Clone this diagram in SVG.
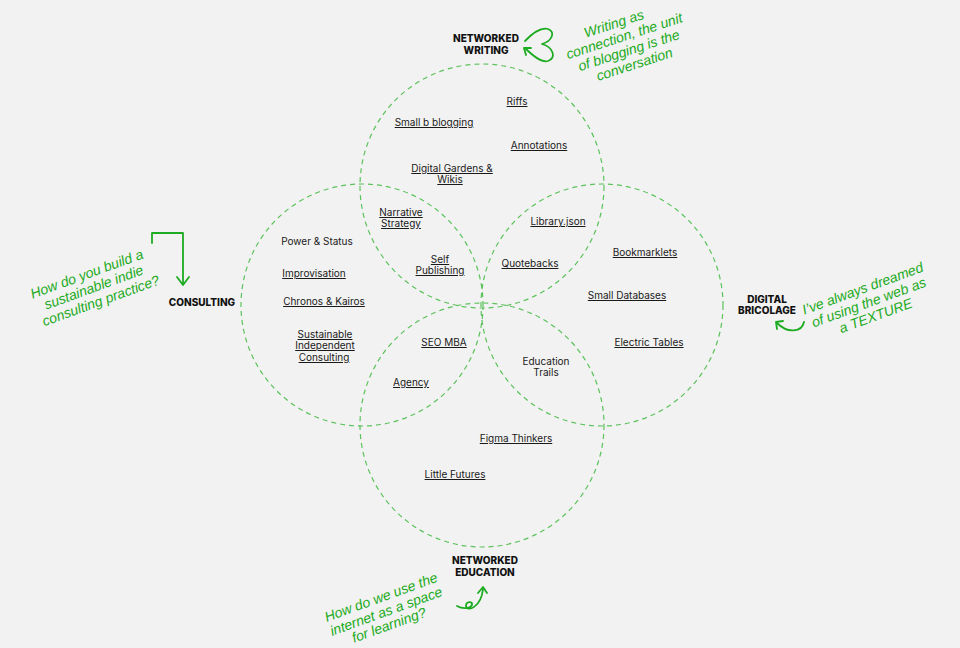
<svg xmlns="http://www.w3.org/2000/svg" width="960" height="648" viewBox="0 0 960 648">
<style>
.bg{fill:#f2f2f2}
.circ{fill:none;stroke:#5cc25c;stroke-width:1.2;stroke-dasharray:5 4}
.item{font-family:Inter,"Liberation Sans",sans-serif;font-size:10px;fill:#1a1a1a;text-anchor:middle}
.u{text-decoration:underline;text-decoration-color:#8a8a8a}
.cat{font-family:Inter,"Liberation Sans",sans-serif;font-size:10px;font-weight:800;fill:#111;text-anchor:middle}
.note{font-family:"Liberation Sans",sans-serif;font-style:italic;font-size:14px;fill:#1dab22;text-anchor:middle}
.arr{fill:none;stroke:#1dab22;stroke-width:1.8;stroke-linecap:round;stroke-linejoin:round}
</style>
<rect class="bg" x="0" y="0" width="960" height="648"/>
<g id="circles">
<circle id="circle-writing" class="circ" cx="482" cy="186" r="122"/>
<circle id="circle-consulting" class="circ" cx="362" cy="305" r="121"/>
<circle id="circle-bricolage" class="circ" cx="602" cy="305" r="121"/>
<circle id="circle-education" class="circ" cx="482" cy="425" r="122"/>
</g>
<g id="categories">
<g id="cat-writing"><text class="cat" x="486" y="42">NETWORKED</text><text class="cat" x="486" y="54">WRITING</text></g>
<g id="cat-consulting"><text class="cat" x="202" y="306">CONSULTING</text></g>
<g id="cat-bricolage"><text class="cat" x="767" y="303">DIGITAL</text><text class="cat" x="767" y="314">BRICOLAGE</text></g>
<g id="cat-education"><text class="cat" x="485" y="564">NETWORKED</text><text class="cat" x="485" y="576">EDUCATION</text></g>
</g>
<g id="items">
<g id="riffs"><text class="item u" x="517" y="105">Riffs</text></g>
<g id="smallb"><text class="item u" x="434" y="126">Small b blogging</text></g>
<g id="annotations"><text class="item u" x="539" y="149">Annotations</text></g>
<g id="gardens"><text class="item u" x="452" y="172">Digital Gardens &amp; </text><text class="item u" x="450" y="183">Wikis</text></g>
<g id="narrative"><text class="item u" x="401" y="216">Narrative</text><text class="item u" x="401" y="227">Strategy</text></g>
<g id="library"><text class="item u" x="558" y="225">Library.json</text></g>
<g id="power"><text class="item" x="317" y="245">Power &amp; Status</text></g>
<g id="selfpub"><text class="item u" x="440" y="263">Self</text><text class="item u" x="440" y="274">Publishing</text></g>
<g id="quotebacks"><text class="item u" x="530" y="267">Quotebacks</text></g>
<g id="bookmarklets"><text class="item u" x="645" y="256">Bookmarklets</text></g>
<g id="improv"><text class="item u" x="314" y="277">Improvisation</text></g>
<g id="smalldb"><text class="item u" x="627" y="299">Small Databases</text></g>
<g id="chronos"><text class="item u" x="324" y="305">Chronos &amp; Kairos</text></g>
<g id="sustainable"><text class="item u" x="325" y="338">Sustainable </text><text class="item u" x="325" y="349">Independent </text><text class="item u" x="324" y="361">Consulting</text></g>
<g id="seo"><text class="item u" x="444" y="346">SEO MBA</text></g>
<g id="electric"><text class="item u" x="649" y="346">Electric Tables</text></g>
<g id="edtrails"><text class="item" x="546" y="365">Education</text><text class="item" x="546" y="376">Trails</text></g>
<g id="agency"><text class="item u" x="411" y="386">Agency</text></g>
<g id="figma"><text class="item u" x="516" y="442">Figma Thinkers</text></g>
<g id="futures"><text class="item u" x="455" y="478">Little Futures</text></g>
</g>
<g id="notes">
<g id="note-writing" transform="translate(625,45) rotate(-18)">
<text class="note" x="-4" y="-19">Writing as</text>
<text class="note" x="2" y="-4">connection, the unit</text>
<text class="note" x="2" y="11">of blogging is the</text>
<text class="note" x="3" y="26">conversation</text>
</g>
<g id="note-consulting" transform="translate(94,288) rotate(-20)">
<text class="note" x="-2" y="-11">How do you build a</text>
<text class="note" x="0" y="4">sustainable indie</text>
<text class="note" x="2" y="19">consulting practice?</text>
</g>
<g id="note-bricolage" transform="translate(869,303) rotate(-20)">
<text class="note" x="-1" y="-11">I’ve always dreamed</text>
<text class="note" x="0" y="4">of using the web as</text>
<text class="note" x="2" y="19">a TEXTURE</text>
</g>
<g id="note-education" transform="translate(386,611) rotate(-20)">
<text class="note" x="0" y="-10">How do we use the</text>
<text class="note" x="0" y="5">internet as a space</text>
<text class="note" x="-2" y="19">for learning?</text>
</g>
</g>
<g id="connectors">
<path class="arr" d="M525,41 C532,34 540,27 548,29 C556,32 552,41 542,44 C553,47 557,58 548,61 C541,63 532,55 525,48"/>
<polyline class="arr" points="531,48 524,48 526,55"/>
<path class="arr" d="M152,243 L152,233 L183,233 L183,284"/>
<polyline class="arr" points="177,277 183,285 189,277"/>
<path class="arr" d="M804,322 C802,332 788,334 777,323"/>
<polyline class="arr" points="783,321 776,322 777,329"/>
<path class="arr" d="M457,606 C462,609 470,609 472,605 C473,601 466,601 466,606 C467,612 481,608 483,589"/>
<polyline class="arr" points="478,593 483,587 487,593"/>
</g>
</svg>
